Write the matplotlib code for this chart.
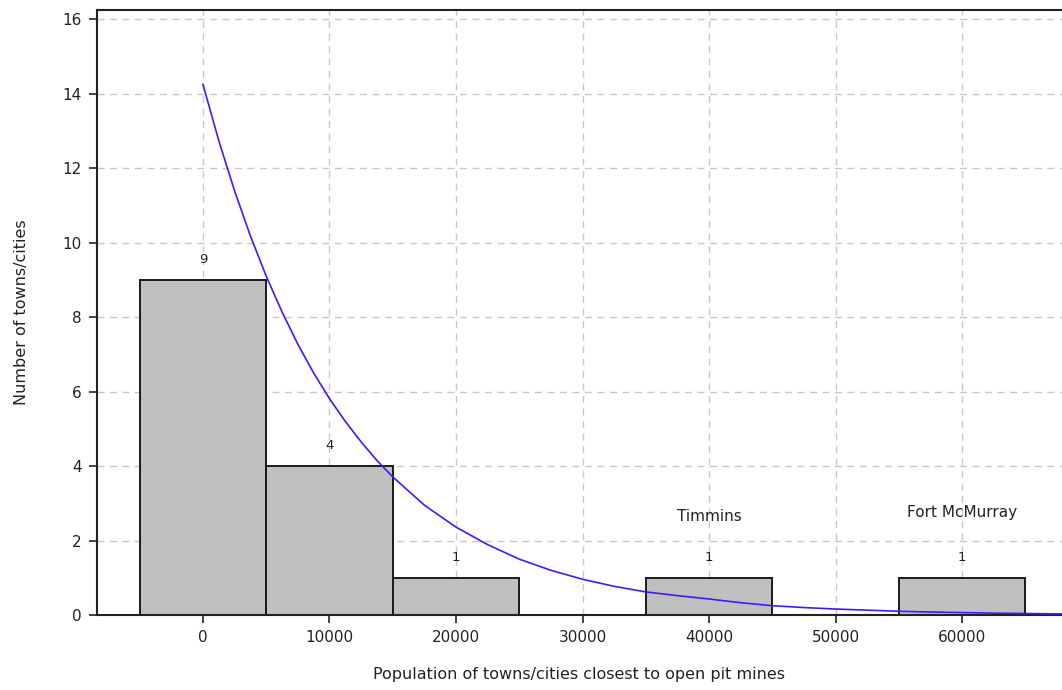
import matplotlib.pyplot as plt

# histogram bins (centres) and counts
bin_centres = [0, 10000, 20000, 40000, 60000]
counts = [9, 4, 1, 1, 1]
bin_width = 10000

# fitted curve
curve_x = [0, 1250, 2500, 3750, 5000, 6250, 7500, 8750, 10000, 11250,
           12500, 13750, 15000, 17500, 20000, 22500,
           25000, 27500, 30000, 32500, 35000, 37500, 40000, 42500, 45000,
           47500, 50000, 52500, 55000, 57500, 60000, 62500, 65000, 67500, 70000]
curve_y = [14.25, 12.74, 11.39, 10.18, 9.1, 8.14, 7.27, 6.5, 5.81, 5.2,
           4.65, 4.15, 3.71, 2.95, 2.36, 1.89,
           1.5, 1.2, 0.96, 0.77, 0.62, 0.52, 0.43, 0.33, 0.25,
           0.2, 0.16, 0.13, 0.1, 0.08, 0.065, 0.05, 0.04, 0.03, 0.03]

# named towns
town_names = ["Timmins", "Fort McMurray"]
town_x = [40000, 60000]
town_y = [2.65, 2.75]

plt.rcParams["font.family"] = ["DejaVu Sans"]

fig = plt.figure(figsize=(10.62, 6.9), dpi=100)
ax = fig.add_axes([0.0913, 0.1087, 0.9087, 0.8768])

ax.grid(True, linestyle=(0, (5, 4)), color="#c8c8c8", linewidth=1)
ax.set_axisbelow(True)

ax.bar(bin_centres, counts, width=bin_width, color="#c0c0c0",
       edgecolor="#1a1a1a", linewidth=1.4, zorder=2)
for xc, c in zip(bin_centres, counts):
    ax.text(xc, c + 0.55, str(c), ha="center", va="center", fontsize=9.5,
            color="#222222", zorder=4)

ax.plot(curve_x, curve_y, color="#4b14ff", linewidth=1.2, zorder=3)

for name, xt, yt in zip(town_names, town_x, town_y):
    ax.text(xt, yt, name, ha="center", va="center", fontsize=11,
            color="#222222", zorder=4)

ax.set_xlim(-8380, 67900)
ax.set_ylim(0, 16.25)
ax.set_xticks([0, 10000, 20000, 30000, 40000, 50000, 60000])
ax.set_yticks(range(0, 17, 2))
ax.tick_params(direction="out", length=6, width=1.2, labelsize=11,
               colors="#222222", pad=5)
for side in ["left", "bottom", "top"]:
    ax.spines[side].set_linewidth(1.5)
    ax.spines[side].set_color("#222222")
ax.spines["right"].set_visible(False)

ax.set_xlabel("Population of towns/cities closest to open pit mines",
              fontsize=11.5, color="#222222", labelpad=16)
ax.set_ylabel("Number of towns/cities", fontsize=11.5, color="#222222",
              labelpad=24)

fig.savefig("out.png", dpi=100)
